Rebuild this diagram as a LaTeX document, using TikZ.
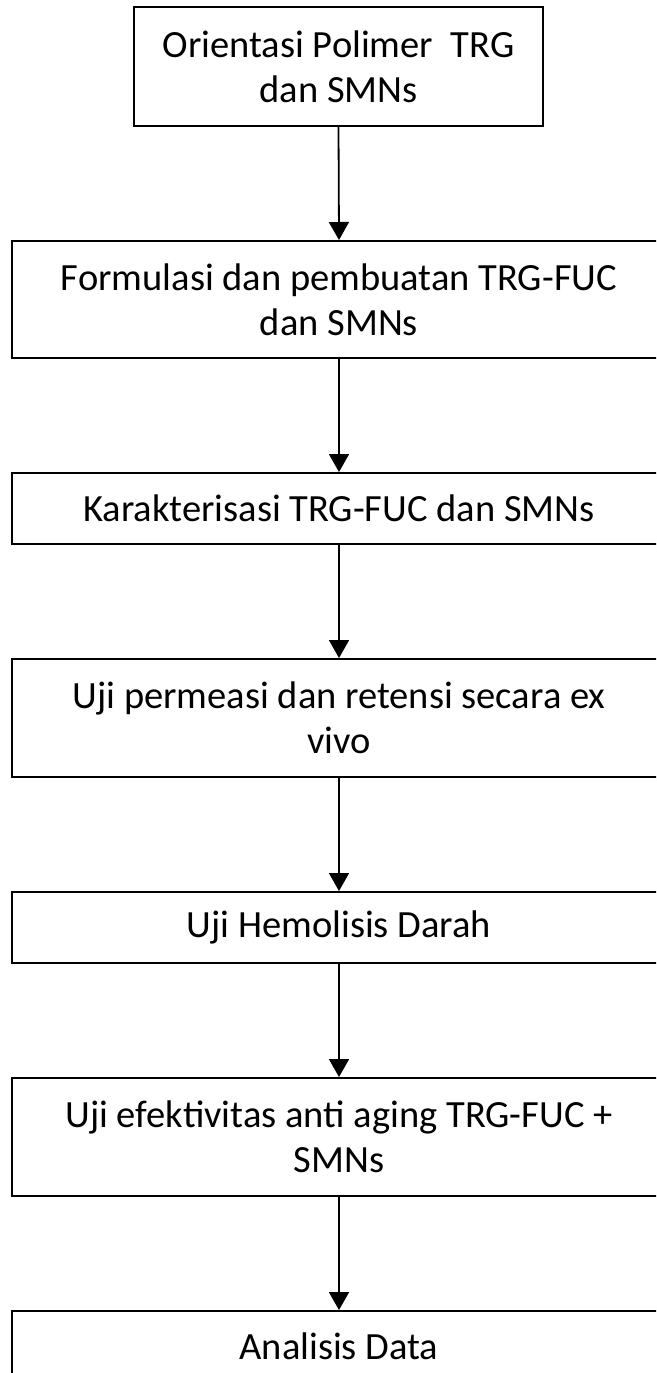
\documentclass[tikz,border=0pt]{standalone}
\usepackage{fontspec}
\setmainfont{Carlito}
\usetikzlibrary{arrows.meta}
\begin{document}
\begin{tikzpicture}[x=1pt,y=-1pt,
  stepbox/.style={draw=black,line width=2pt,fill=white,inner sep=0pt,align=center,
    font=\fontsize{38.5}{45}\selectfont},
  flow/.style={line width=1.8pt,-{Triangle[width=20pt,length=18pt]}}]
\useasboundingbox (0,0) rectangle (656,1373);
\clip (0,0) rectangle (656,1373);
\node[stepbox,minimum width=409pt,minimum height=119pt] (b1) at (338.5,66.5) {Orientasi Polimer\ \ TRG\\dan SMNs};
\node[stepbox,minimum width=654pt,minimum height=117pt] (b2) at (339,299.5) {Formulasi dan pembuatan TRG-FUC\\dan SMNs};
\node[stepbox,minimum width=654pt,minimum height=71pt] (b3) at (339,508.5) {Karakterisasi TRG-FUC dan SMNs};
\node[stepbox,minimum width=654pt,minimum height=118pt] (b4) at (339,718) {Uji permeasi dan retensi secara ex\\vivo};
\node[stepbox,minimum width=654pt,minimum height=71pt] (b5) at (339,927.5) {Uji Hemolisis Darah};
\node[stepbox,minimum width=654pt,minimum height=118pt] (b6) at (339,1137) {Uji efektivitas anti aging TRG-FUC +\\SMNs};
\node[stepbox,minimum width=654pt,minimum height=71pt] (b7) at (339,1346.5) {Analisis Data};
\draw[flow] (b1.south) -- (b2.north);
\draw[flow] (b2.south) -- (b3.north);
\draw[flow] (b3.south) -- (b4.north);
\draw[flow] (b4.south) -- (b5.north);
\draw[flow] (b5.south) -- (b6.north);
\draw[flow] (b6.south) -- (b7.north);
\end{tikzpicture}
\end{document}
